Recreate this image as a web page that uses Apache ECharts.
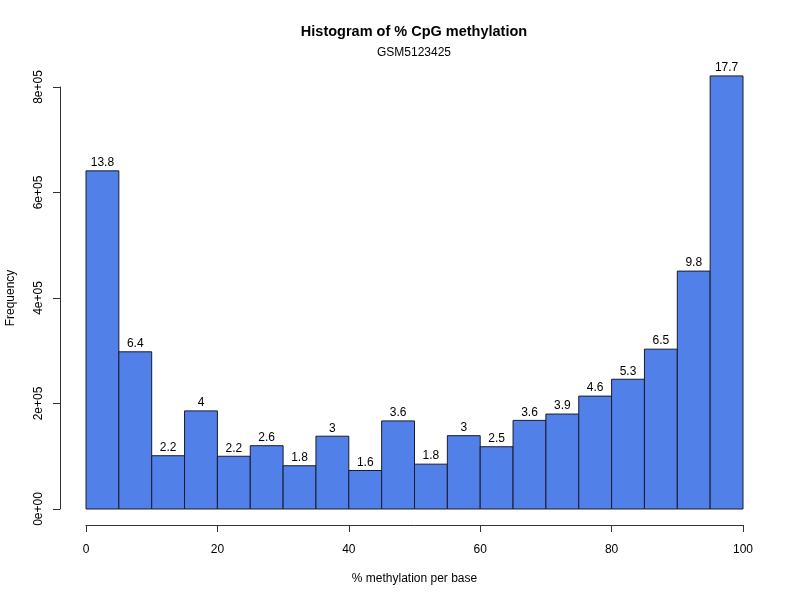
<!DOCTYPE html>
<html>
<head>
<meta charset="utf-8">
<script src="https://cdn.jsdelivr.net/npm/echarts@6/dist/echarts.min.js"></script>
<style>
  html, body { margin: 0; padding: 0; background: #fff; }
  #chart { width: 800px; height: 600px; }
</style>
</head>
<body>
<div id="chart"></div>
<script>
// histogram bins (% methylation), counts and percent labels
var breaks = [0, 5, 10, 15, 20, 25, 30, 35, 40, 45, 50, 55, 60, 65, 70, 75, 80, 85, 90, 95, 100]
var counts = [641000, 298000, 101000, 186000, 100000, 120000, 82000, 138000, 73000, 167000,
  85000, 139000, 118000, 168000, 180000, 214000, 246000, 303000, 451000, 821000]
var pctLabels = ['13.8', '6.4', '2.2', '4', '2.2', '2.6', '1.8', '3', '1.6', '3.6',
  '1.8', '3', '2.5', '3.6', '3.9', '4.6', '5.3', '6.5', '9.8', '17.7']
var yTicks = ['0e+00', '2e+05', '4e+05', '6e+05', '8e+05']

var FONT = 'Liberation Sans, Arial, sans-serif'

var data = counts.map(function (c, i) {
  return [breaks[i], breaks[i + 1], c, pctLabels[i]]
})

var chart = echarts.init(document.getElementById('chart'))
chart.setOption({
  animation: false,
  graphic: [{
    type: 'text',
    x: 414,
    y: 32,
    style: {
      text: 'Histogram of % CpG methylation',
      textAlign: 'center',
      textVerticalAlign: 'middle',
      fontFamily: FONT,
      fontSize: 14.5,
      fontWeight: 'bold',
      fill: '#000'
    }
  }, {
    type: 'text',
    x: 414,
    y: 53,
    style: {
      text: 'GSM5123425',
      textAlign: 'center',
      textVerticalAlign: 'middle',
      fontFamily: FONT,
      fontSize: 12,
      fill: '#000'
    }
  }],
  grid: {
    left: 86,
    right: 57,
    top: 87,
    bottom: 91,
    outerBoundsMode: 'none'
  },
  xAxis: {
    type: 'value',
    min: 0,
    max: 100,
    interval: 20,
    offset: 16,
    name: '% methylation per base',
    nameLocation: 'middle',
    nameGap: 48,
    nameTextStyle: { fontFamily: FONT, fontSize: 12, color: '#000' },
    axisLine: { show: true, onZero: false, lineStyle: { color: '#333', width: 1 } },
    axisTick: { show: true, length: 7, lineStyle: { color: '#333' } },
    axisLabel: { margin: 19, fontFamily: FONT, fontSize: 12, color: '#000' },
    splitLine: { show: false }
  },
  yAxis: {
    type: 'value',
    min: 0,
    max: 800000,
    interval: 200000,
    offset: 26,
    name: 'Frequency',
    nameLocation: 'middle',
    nameGap: 43,
    nameTextStyle: { fontFamily: FONT, fontSize: 12, color: '#000' },
    axisLine: { show: true, onZero: false, lineStyle: { color: '#333', width: 1 } },
    axisTick: { show: true, length: 7, lineStyle: { color: '#333' } },
    axisLabel: {
      rotate: 90,
      margin: 15,
      fontFamily: FONT,
      fontSize: 12,
      color: '#000',
      formatter: function (v) { return yTicks[Math.round(v / 200000)] }
    },
    splitLine: { show: false }
  },
  series: [{
    type: 'custom',
    clip: false,
    data: data,
    encode: { x: [0, 1], y: 2 },
    renderItem: function (params, api) {
      var topLeft = api.coord([api.value(0), api.value(2)])
      var botRight = api.coord([api.value(1), 0])
      return {
        type: 'group',
        children: [{
          type: 'rect',
          shape: {
            x: topLeft[0],
            y: topLeft[1],
            width: botRight[0] - topLeft[0],
            height: botRight[1] - topLeft[1]
          },
          style: { fill: '#5080E8', stroke: '#1a1a2e', lineWidth: 1 }
        }, {
          type: 'text',
          x: (topLeft[0] + botRight[0]) / 2,
          y: topLeft[1] - 2,
          style: {
            text: api.value(3),
            textAlign: 'center',
            textVerticalAlign: 'bottom',
            fontFamily: FONT,
            fontSize: 12,
            fill: '#000'
          }
        }]
      }
    }
  }]
})
</script>
</body>
</html>
